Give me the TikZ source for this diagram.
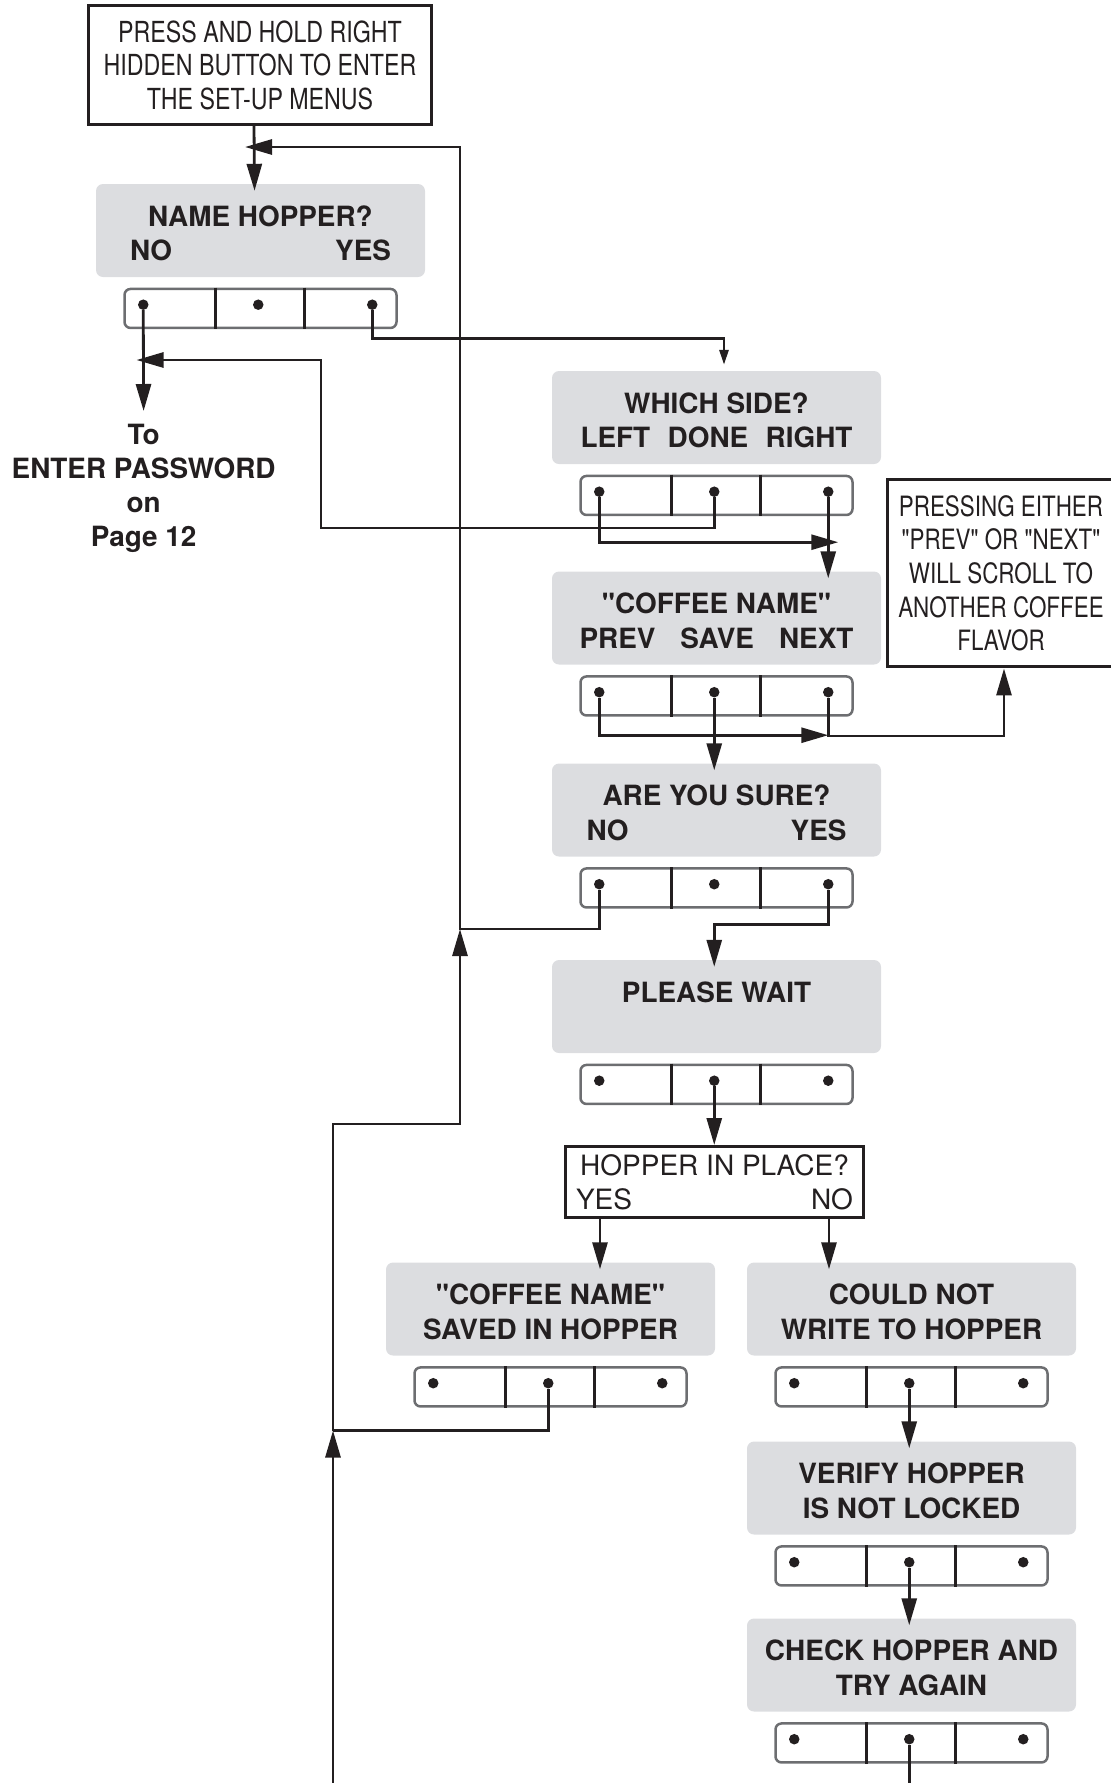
\documentclass[tikz,border=0pt]{standalone}
\usepackage{fontspec}
\setmainfont{TeX Gyre Heros}[Ligatures=TeXOff]
\newfontfamily\condfont[FakeStretch=0.8]{TeX Gyre Heros}
\usetikzlibrary{arrows.meta,positioning}

\definecolor{ink}{HTML}{231F20}
\definecolor{panel}{HTML}{DCDDE0}
\definecolor{rim}{HTML}{6D6E71}

\newcommand\boldtxt{\fontsize{27.9pt}{34.1pt}\selectfont\bfseries}
\newcommand\condtxt{\condfont\fontsize{29pt}{33.5pt}\selectfont}
\newcommand\notetxt{\condfont\fontsize{28pt}{33.6pt}\selectfont}
\newcommand\plaintxt{\fontsize{28pt}{34pt}\selectfont}

\tikzset{
  screen/.style={fill=panel, rounded corners=7pt, minimum width=329pt, minimum height=93pt,
    inner sep=0pt, align=center, font=\boldtxt, text=ink, text height=60pt, text depth=0pt},
  keybar/.style={draw=rim, line width=2.5pt, rounded corners=6pt, minimum width=272pt,
    minimum height=39pt, inner sep=0pt},
  keydot/.style={circle, fill=ink, minimum size=10.5pt, inner sep=0pt},
  divider/.style={draw=ink, line width=2.6pt},
  msgbox/.style={draw=ink, line width=3pt, inner sep=0pt, align=center, text=ink},
  flow/.style={draw=ink, line width=2.8pt},
  into/.style={shorten >=-7pt},
  >={Triangle[length=27pt,width=15pt]}
}

\begin{document}
\begin{tikzpicture}[x=1pt,y=-1pt]
\useasboundingbox (0,0) rectangle (1111,1783);

% white boxes
\node[msgbox, font=\condtxt, minimum width=343pt, minimum height=119pt] (start) at (260,65)
  {PRESS AND HOLD RIGHT\\HIDDEN BUTTON TO ENTER\\THE SET-UP MENUS};
\node[msgbox, font=\notetxt, minimum width=228pt, minimum height=187.5pt] (note) at (1001,573.2)
  {PRESSING EITHER\\"PREV" OR "NEXT"\\WILL SCROLL TO\\ANOTHER COFFEE\\FLAVOR};
\node[msgbox, font=\plaintxt, minimum width=298pt, minimum height=71pt] (hip) at (714.5,1182)
  {HOPPER IN PLACE?\\\makebox[277pt]{YES\hfill NO}};

% display screens
\node[screen] (nh) at (260.5,230.5) {NAME HOPPER?\\\makebox[261pt]{NO\hfill YES}};
\node[screen] (ws) at (716.5,417.5) {WHICH SIDE?\\\makebox[272pt]{LEFT\hfill DONE\hfill RIGHT}};
\node[screen] (cn) at (716.5,618) {"COFFEE NAME"\\\makebox[274pt]{PREV\hfill SAVE\hfill NEXT}};
\node[screen] (as) at (716.5,810) {ARE YOU SURE?\\\makebox[260pt]{NO\hfill YES}};
\node[screen] (pw) at (716.5,1006.5) {PLEASE WAIT\\\phantom{X}};
\node[screen] (sv) at (550.5,1309) {"COFFEE NAME"\\SAVED IN HOPPER};
\node[screen] (cw) at (911.5,1309) {COULD NOT\\WRITE TO HOPPER};
\node[screen] (vh) at (911.5,1488) {VERIFY HOPPER\\IS NOT LOCKED};
\node[screen] (ch) at (911.5,1665) {CHECK HOPPER AND\\TRY AGAIN};

\node[font=\boldtxt, text=ink, align=center, anchor=north, inner sep=0pt] (pwd) at (143.6,424)
  {To\\ENTER PASSWORD\\on\\Page 12};

% keypads under the screens
\foreach \s in {nh,ws,cn,as,pw,sv,cw,vh,ch}{
  \node[keybar, below=10.5pt of \s] (\s-k) {};
  \foreach \d in {92,181}
    \draw[divider] ([xshift=\d pt]\s-k.north west) -- ([xshift=\d pt]\s-k.south west);
  \node[keydot] (\s-l) at ([xshift=20pt,yshift=-17pt]\s-k.north west) {};
  \node[keydot] (\s-m) at ([xshift=135pt,yshift=-17pt]\s-k.north west) {};
  \node[keydot] (\s-r) at ([xshift=249pt,yshift=-17pt]\s-k.north west) {};
}

% bends and free ends
\coordinate (up1) at (460,929);
\coordinate (ret1) at (245,147);
\coordinate (pw1) at (321,528);
\coordinate (pwtip) at (136.5,360);
\coordinate (bot) at (333,1800);
\coordinate (join2) at (333,1430.5);
\coordinate (bend) at (333,1124);
\coordinate (notein) at (1004,736);
\coordinate (yesout) at ([xshift=36pt]hip.south west);
\coordinate (noout) at ([xshift=-36pt]hip.south east);

% connectors
\draw[flow,->,into] ([xshift=-6pt]start.south) -- ([xshift=-6pt]nh.north);
\draw[flow,->] (as-l) |- (up1) |- (ret1);
\draw[flow,->] (bot) -- (join2);
\draw[flow] (sv-m) |- (join2);
\draw[flow,->] (join2) -- (bend) -| (up1);
\draw[flow] (ch-m) -- (ch-m |- bot);
\draw[flow,->] (nh-l) -- ([yshift=13pt]pwd.north);
\draw[flow,->] (ws-m) |- (pw1) |- (pwtip);
\draw[flow,-{Triangle[length=15pt,width=9pt]}] (nh-r) |- ([xshift=7.5pt,yshift=32pt]ws.north)
  -- ([xshift=7.5pt,yshift=6pt]ws.north);
\draw[flow,->] (ws-l) |- ([xshift=10pt,yshift=-50.5pt]ws-r.center);
\draw[flow,->,into] (ws-r) -- (ws-r |- cn.north);
\draw[flow,->] (cn-l) |- ([yshift=-43pt]cn-r.center);
\draw[flow,->] (cn-r) |- (notein) -- (notein |- note.south);
\draw[flow,->,into] (cn-m) -- (cn-m |- as.north);
\draw[flow,->,into] (as-r) |- ([yshift=-40.5pt]as-m.center) -- (as-m |- pw.north);
\draw[flow,->] (pw-m) -- (pw-m |- hip.north);
\draw[flow,->,into] (yesout) -- (yesout |- sv.north);
\draw[flow,->,into] (noout) -- (noout |- cw.north);
\draw[flow,->,into] (cw-m) -- (cw-m |- vh.north);
\draw[flow,->,into] (vh-m) -- (vh-m |- ch.north);
\end{tikzpicture}
\end{document}
